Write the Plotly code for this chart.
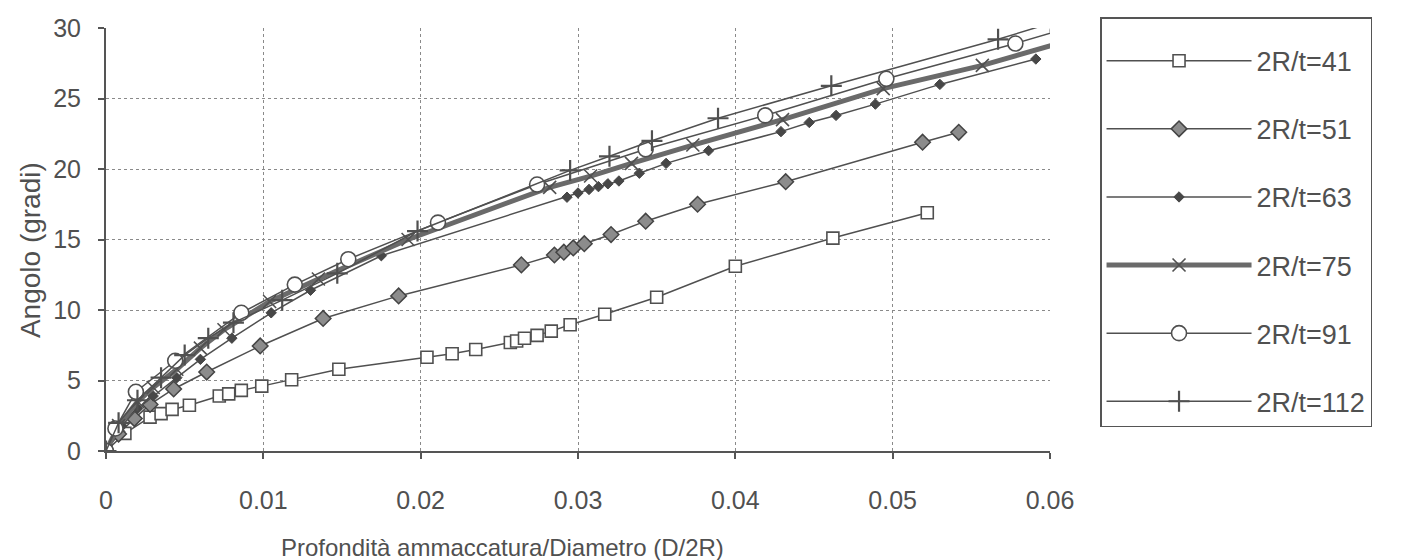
import plotly.graph_objects as go

# ---- data ----
x41 = [0, 0.0012, 0.0028, 0.0035, 0.0042, 0.0053, 0.0072, 0.0078, 0.0086, 0.0099, 0.0118, 0.0148,
       0.0204, 0.0220, 0.0235, 0.0257, 0.0261, 0.0266, 0.0274, 0.0283, 0.0295, 0.0317, 0.0350,
       0.0400, 0.0462, 0.0522]
y41 = [0, 1.25, 2.4, 2.65, 2.95, 3.25, 3.9, 4.05, 4.3, 4.6, 5.05, 5.8,
       6.65, 6.9, 7.2, 7.7, 7.8, 8.0, 8.2, 8.5, 8.95, 9.7, 10.9,
       13.1, 15.1, 16.9]

x51 = [0, 0.0008, 0.0018, 0.0028, 0.0043, 0.0064, 0.0098, 0.0138, 0.0186, 0.0264, 0.0285,
       0.0291, 0.0297, 0.0304, 0.0321, 0.0343, 0.0376, 0.0432, 0.0519, 0.0542]
y51 = [0, 1.2, 2.3, 3.3, 4.4, 5.6, 7.45, 9.4, 11.0, 13.2, 13.9,
       14.1, 14.4, 14.7, 15.35, 16.3, 17.5, 19.1, 21.9, 22.6]

x63 = [0, 0.001, 0.002, 0.003, 0.0045, 0.006, 0.008, 0.0105, 0.013, 0.0175, 0.0293, 0.0300,
       0.0307, 0.0313, 0.0319, 0.0326, 0.0339, 0.0356, 0.0383, 0.0429, 0.0447, 0.0464, 0.0489,
       0.0530, 0.0591]
y63 = [0, 1.8, 3.0, 3.9, 5.2, 6.5, 8.0, 9.8, 11.4, 13.85, 18.0, 18.3,
       18.55, 18.75, 18.95, 19.15, 19.7, 20.4, 21.3, 22.65, 23.3, 23.8, 24.6,
       26.0, 27.8]

x75 = [0, 0.0008, 0.002, 0.003, 0.0045, 0.006, 0.0075, 0.0104, 0.0135, 0.0192, 0.0282, 0.0308,
       0.0334, 0.0373, 0.0430, 0.0494, 0.0557, 0.0605]
y75 = [0, 1.8, 3.5, 4.5, 5.8, 7.3, 8.6, 10.6, 12.2, 15.0, 18.7, 19.5,
       20.4, 21.7, 23.5, 25.7, 27.35, 28.9]

x91 = [0, 0.0006, 0.0019, 0.0044, 0.0086, 0.0120, 0.0154, 0.0211, 0.0274, 0.0343, 0.0419,
       0.0496, 0.0578, 0.0605]
y91 = [0, 1.6, 4.2, 6.4, 9.8, 11.8, 13.6, 16.2, 18.9, 21.4, 23.8,
       26.4, 28.9, 29.8]

x112 = [0, 0.0008, 0.002, 0.0035, 0.005, 0.0065, 0.0081, 0.0112, 0.0147, 0.0198, 0.0295, 0.0320,
        0.0347, 0.0389, 0.0461, 0.0567, 0.0605]
y112 = [0, 2.0, 3.6, 5.2, 6.8, 8.0, 9.1, 10.7, 12.6, 15.6, 19.9, 20.9,
        22.0, 23.6, 25.9, 29.2, 30.5]

names = ["2R/t=41", "2R/t=51", "2R/t=63", "2R/t=75", "2R/t=91", "2R/t=112"]
xticks = [0, 0.01, 0.02, 0.03, 0.04, 0.05, 0.06]
xticklabels = ["0", "0.01", "0.02", "0.03", "0.04", "0.05", "0.06"]
yticks = [0, 5, 10, 15, 20, 25, 30]
x_title = "Profondità ammaccatura/Diametro (D/2R)"
y_title = "Angolo (gradi)"

INK = "#505050"
FONT = "Liberation Sans, Arial, sans-serif"

styles = [
    dict(line=dict(color=INK, width=1.5),
         marker=dict(symbol="square", size=12, color="white", line=dict(color=INK, width=1.6))),
    dict(line=dict(color=INK, width=1.5),
         marker=dict(symbol="diamond", size=12, color="#8c8c8c", line=dict(color="#444", width=1.5))),
    dict(line=dict(color=INK, width=1.5),
         marker=dict(symbol="diamond", size=8, color="#474747", line=dict(color="#474747", width=1))),
    dict(line=dict(color="#6a6a6a", width=5),
         marker=dict(symbol="x-thin", size=13, color=INK, line=dict(color=INK, width=1.6))),
    dict(line=dict(color=INK, width=1.5),
         marker=dict(symbol="circle", size=15, color="white", line=dict(color=INK, width=1.6))),
    dict(line=dict(color=INK, width=1.5),
         marker=dict(symbol="cross-thin", size=15, color=INK, line=dict(color=INK, width=2.2))),
]

xs = [x41, x51, x63, x75, x91, x112]
ys = [y41, y51, y63, y75, y91, y112]

fig = go.Figure()
for i, (xv, yv, nm, st) in enumerate(zip(xs, ys, names, styles)):
    fig.add_trace(go.Scatter(x=xv, y=yv, name=nm, mode="lines+markers",
                             legendgroup=f"g{i}", line=st["line"], marker=st["marker"],
                             cliponaxis=True))

axis_common = dict(
    showgrid=True, gridcolor="#8a8a8a", griddash="dot", gridwidth=1,
    zeroline=False, showline=True, linecolor="#555", linewidth=2,
    ticks="outside", tickcolor="#555", ticklen=6, tickwidth=1.5,
    tickfont=dict(family=FONT, size=25, color=INK),
)

fig.update_xaxes(range=[0, 0.06], tickvals=xticks, ticktext=xticklabels,
                 ticklabelstandoff=20, **axis_common)
fig.update_yaxes(range=[0, 30], tickvals=yticks,
                 ticklabelstandoff=12, **axis_common)

fig.add_annotation(text=x_title, xref="paper", yref="paper", x=0.4195, y=-0.227,
                   xanchor="center", yanchor="middle", showarrow=False,
                   font=dict(family=FONT, size=24, color=INK))
fig.add_annotation(text=y_title, xref="paper", yref="paper", x=-0.0805, y=0.475,
                   xanchor="center", yanchor="middle", showarrow=False, textangle=-90,
                   font=dict(family=FONT, size=28, color=INK))

fig.update_layout(
    width=1405, height=560,
    margin=dict(l=106, r=355, t=28, b=109, autoexpand=False),
    paper_bgcolor="white", plot_bgcolor="white",
    font=dict(family=FONT, color=INK),
    showlegend=True,
    legend=dict(x=1.053, xanchor="left", yref="container", y=1 - 17 / 560, yanchor="top",
                maxheight=540,
                bordercolor="#555", borderwidth=1.5, bgcolor="white",
                font=dict(family=FONT, size=27, color=INK),
                title=dict(text=" ", font=dict(size=14)),
                itemwidth=145, tracegroupgap=30, traceorder="grouped"),
)

fig.write_html("out.html")
